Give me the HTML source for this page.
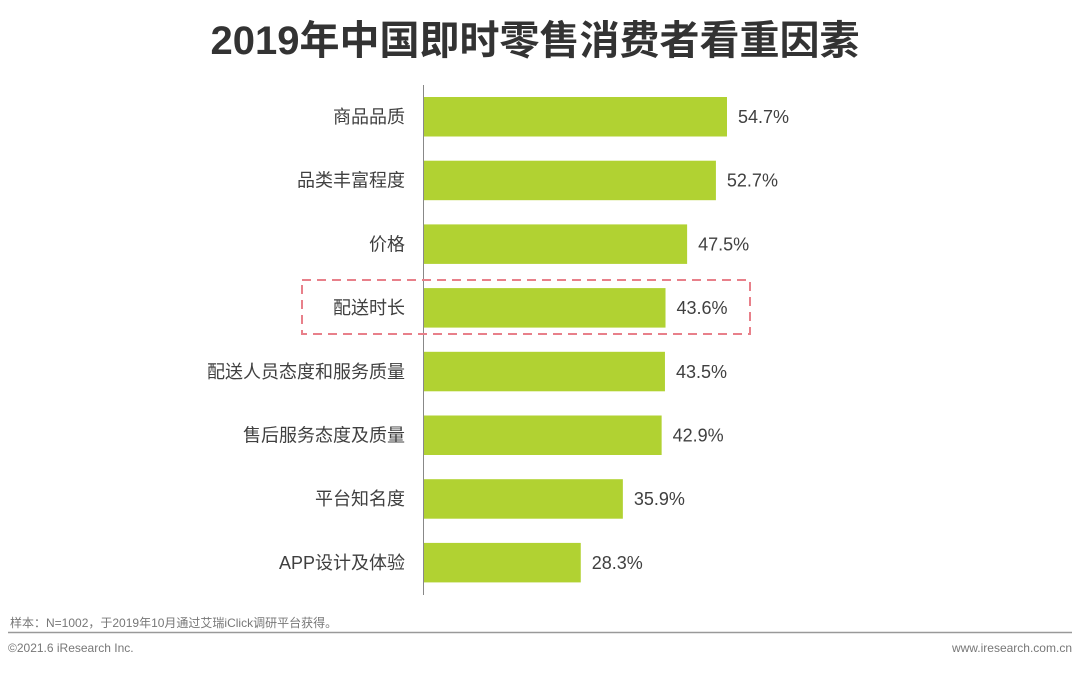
<!DOCTYPE html>
<html><head><meta charset="utf-8"><style>
body{margin:0;width:1080px;height:671px;background:#fff;overflow:hidden;font-family:"Liberation Sans","Noto Sans CJK SC",sans-serif}
</style></head><body>
<svg width="1080" height="671" xmlns="http://www.w3.org/2000/svg">
<text x="535" y="54" text-anchor="middle" font-size="40" font-weight="bold" fill="#333" font-family="Liberation Sans, Noto Sans CJK SC, sans-serif">2019年中国即时零售消费者看重因素</text>
<g id="bars"></g>
<line x1="423.5" y1="85" x2="423.5" y2="595" stroke="#888" stroke-width="1"/>
<rect x="302" y="280" width="448" height="54" fill="none" stroke="#e8808a" stroke-width="2" stroke-dasharray="9,6"/>
<text x="10" y="627" font-size="12" fill="#777">样本：N=1002，于2019年10月通过艾瑞iClick调研平台获得。</text>
<line x1="8" y1="632.5" x2="1072" y2="632.5" stroke="#999" stroke-width="1.5"/>
<text x="8" y="652" font-size="12" fill="#777">©2021.6 iResearch Inc.</text>
<text x="1072" y="652" font-size="12" fill="#777" text-anchor="end">www.iresearch.com.cn</text>
</svg>
<script>
const categories=["商品品质","品类丰富程度","价格","配送时长","配送人员态度和服务质量","售后服务态度及质量","平台知名度","APP设计及体验"];
const values=[54.7,52.7,47.5,43.6,43.5,42.9,35.9,28.3];
const x0=424, scale=303/54.7;
const xS=v=>x0+v*scale;
const yS=i=>97+i*63.7;
const g=document.getElementById('bars');
const NS="http://www.w3.org/2000/svg";
categories.forEach((c,i)=>{
  const r=document.createElementNS(NS,'rect');
  r.setAttribute('x',x0);r.setAttribute('y',yS(i));
  r.setAttribute('width',xS(values[i])-x0);r.setAttribute('height',39.5);
  r.setAttribute('fill','#b1d232');
  
  
  g.appendChild(r);
  const l=document.createElementNS(NS,'text');
  l.setAttribute('x',405);l.setAttribute('y',yS(i)+26);
  l.setAttribute('text-anchor','end');l.setAttribute('font-size','18');l.setAttribute('fill','#404040');
  l.textContent=c;
  
  
  g.appendChild(l);
  const v=document.createElementNS(NS,'text');
  v.setAttribute('x',xS(values[i])+11);v.setAttribute('y',yS(i)+26);
  v.setAttribute('font-size','18');v.setAttribute('fill','#404040');
  v.textContent=values[i].toFixed(1)+'%';
  
  
  g.appendChild(v);
});
</script>
</body></html>
